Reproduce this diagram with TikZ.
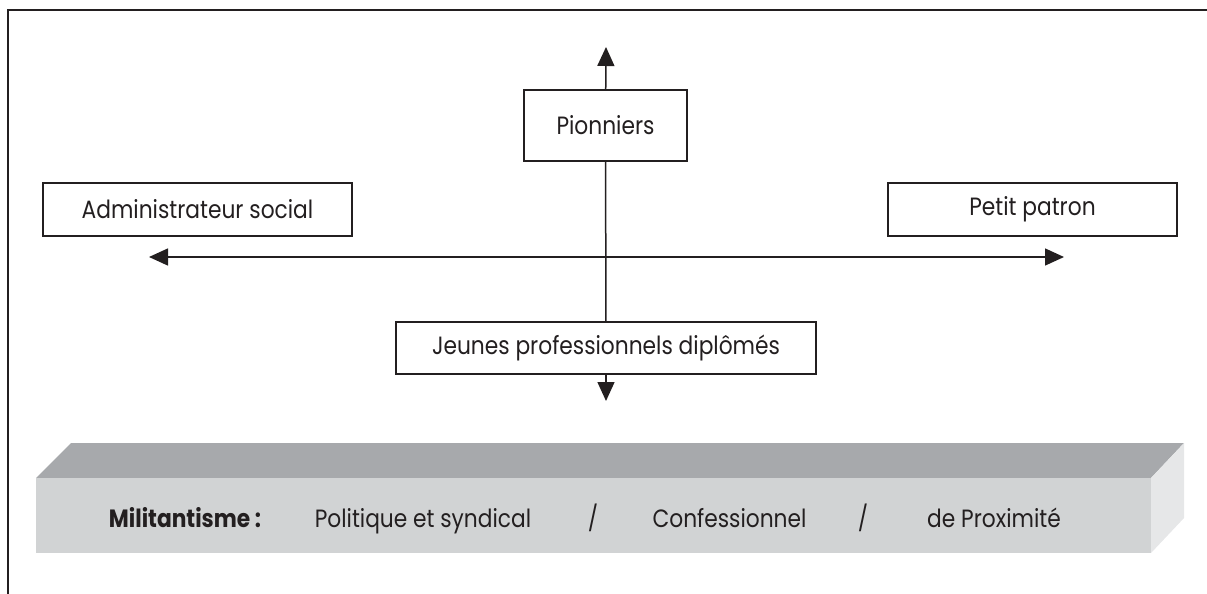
\documentclass[tikz,border=0pt]{standalone}
\usepackage{fontspec}
\setmainfont[FakeStretch=0.87]{Poppins}
\usepackage{tikz}
\usetikzlibrary{arrows.meta}
\usetikzlibrary{positioning}

\definecolor{slabtop}{HTML}{A7A9AC}
\definecolor{slabfront}{HTML}{D1D3D4}
\definecolor{slabside}{HTML}{E6E7E8}
\definecolor{ink}{HTML}{231F20}

\begin{document}
\begin{tikzpicture}[x=1pt,y=-1pt,
	box/.style={draw=ink, line width=1.5pt, fill=white, inner sep=0pt, text=ink,
		font=\fontsize{25}{27}\selectfont},
	axis/.style={ink, line width=1.5pt, >={Triangle[length=19pt,width=17pt]}},
	slabtext/.style={anchor=base, text=ink, font=\fontsize{25}{27}\selectfont}]
	
	\useasboundingbox (0,0) rectangle (1207,594);
	
	% cadre
	\draw[ink, line width=1.5pt] (1207,10) -- (8,10) -- (8,594);
	
	% les quatre profils
	\node[box, minimum width=163pt, minimum height=71pt] (pion) at (605.5,125.5) {Pionniers};
	\node[box, minimum width=309pt, minimum height=53pt] (admin) at (197.5,209.5) {Administrateur social};
	\node[box, minimum width=289pt, minimum height=53pt] (patron) at (1032.5,209.5) {Petit patron};
	\node[box, minimum width=420pt, minimum height=52pt] (jeunes) at (606,348) {Jeunes professionnels dipl\^om\'es};
	
	\coordinate (nord) at (606,47);
	\coordinate (sud) at (606,401);
	\coordinate (ouest) at (149,257);
	\coordinate (est) at (1064,257);
	
	% axes
	\draw[axis,<->] (ouest) -- (est);
	\draw[axis,->] (pion) -- (nord);
	\draw[axis] (pion) -- (jeunes);
	\draw[axis,->] (jeunes) -- (sud);
	
	% bandeau
	\fill[slabtop] (36,478) -- (71,443) -- (1184,443) -- (1151,478) -- cycle;
	\fill[slabside] (1151,478) -- (1184,443) -- (1184,518) -- (1151,553) -- cycle;
	\fill[slabfront] (36,478) rectangle (1151,553);
	
	\node[slabtext, font=\fontsize{25}{27}\selectfont\bfseries] (milit) at (185,527) {Militantisme :};
	\node[slabtext] (polit) at (423,527) {Politique et syndical};
	\node[slabtext] (sep1) at (593,527) {/};
	\node[slabtext] (confes) at (729.5,527) {Confessionnel};
	\node[slabtext] (sep2) at (863,527) {/};
	\node[slabtext] (proxi) at (994,527) {de Proximit\'e};
	
\end{tikzpicture}
\end{document}
